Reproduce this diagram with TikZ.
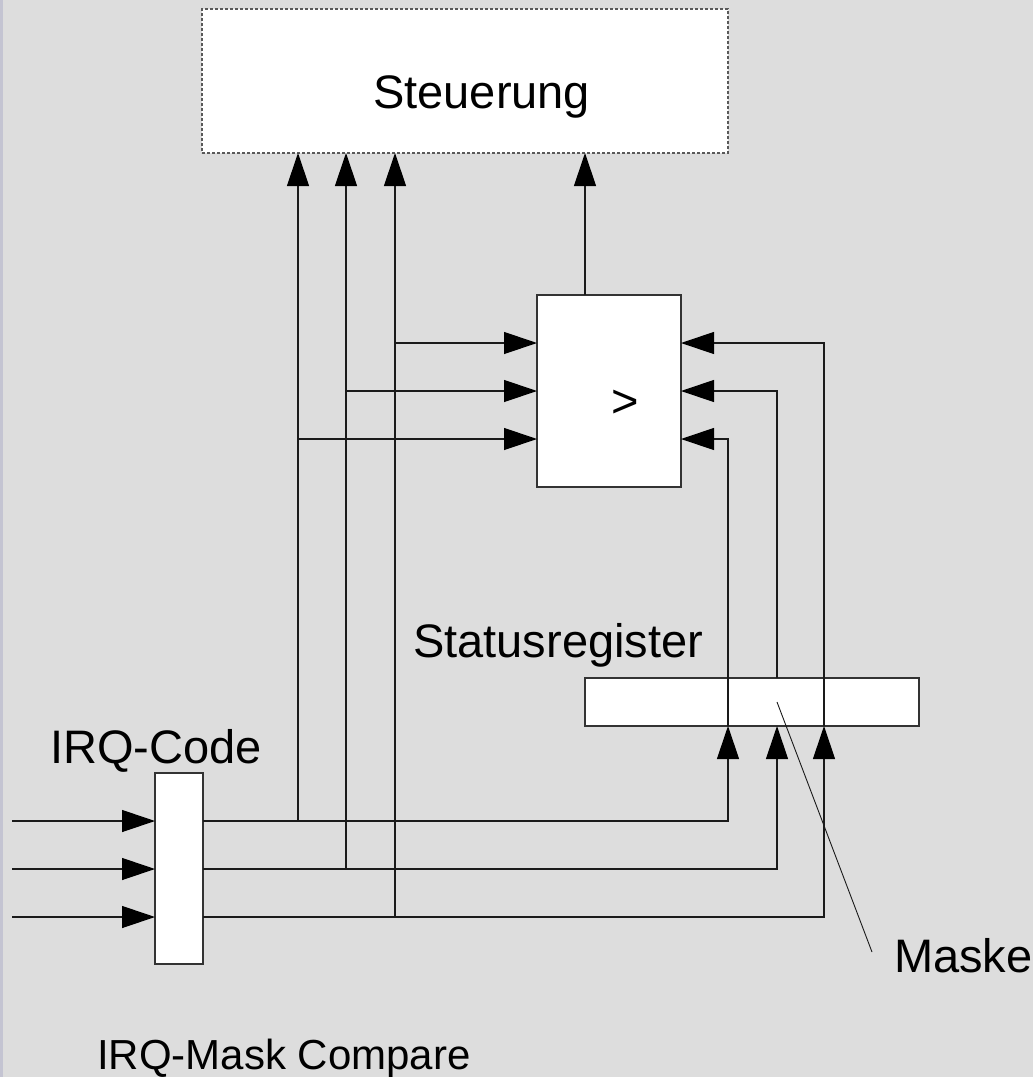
\documentclass[tikz,border=0pt]{standalone}
\usepackage{fontspec}
\setmainfont{Liberation Sans}
\usetikzlibrary{arrows.meta}
\definecolor{bgcol}{HTML}{DDDDDD}
\definecolor{edgecol}{HTML}{C4C4D2}
\definecolor{linecol}{HTML}{1A1A1A}
\definecolor{boxcol}{HTML}{333333}
\tikzset{
  wire/.style={draw=linecol, line width=1.2pt},
  arr/.style={wire, -{Triangle[length=33pt,width=22pt,color=black]}},
  whitebox/.style={draw=boxcol, fill=white, line width=1.3pt, inner sep=0pt, outer sep=0pt, anchor=north west},
  dashbox/.style={whitebox, draw=black!65, dash pattern=on 3pt off 2pt},
  lbl/.style={inner sep=0pt, anchor=base west, font=\fontsize{47}{56}\selectfont},
  lblsmall/.style={inner sep=0pt, anchor=base west, font=\fontsize{42}{50}\selectfont}
}
\begin{document}
\begin{tikzpicture}[x=1pt,y=-1pt]
\useasboundingbox (0,0) rectangle (1033,1077);
\fill[bgcol] (0,0) rectangle (1033,1077);
\fill[edgecol] (0,0) rectangle (2.5,1077);

% boxes
\node[dashbox, minimum width=526pt, minimum height=144pt] (st) at (202,9) {};
\node[whitebox, minimum width=144pt, minimum height=192pt] (cmp) at (537,295) {};
\node[whitebox, minimum width=48pt, minimum height=191pt] (code) at (155,773) {};
\node[whitebox, minimum width=334pt, minimum height=48pt] (sr) at (585,678) {};

% labels
\node[lbl] (stlbl) at (373,108) {Steuerung};
\node[lbl] (gt) at (611,417) {>};
\node[lbl] (srlbl) at (413,657) {Statusregister};
\node[lbl] (codelbl) at (50,763) {IRQ-Code};
\node[lbl] (masklbl) at (894,972) {Maske};
\node[lblsmall] (title) at (97,1069) {IRQ-Mask Compare};

% coordinates
\coordinate (in1) at (12,821);
\coordinate (in2) at (12,869);
\coordinate (in3) at (12,917);
\coordinate (r1) at (0,343);
\coordinate (r2) at (0,391);
\coordinate (r3) at (0,439);
\coordinate (l1) at (298,0);
\coordinate (l2) at (346,0);
\coordinate (l3) at (395,0);
\coordinate (c1) at (728,0);
\coordinate (c2) at (777,0);
\coordinate (c3) at (824,0);
\coordinate (top) at (585,0);
\coordinate (mp) at (777,702);
\coordinate (mq) at (872,952);

% inputs to IRQ-Code
\draw[arr] (in1) -- (in1 -| code.west);
\draw[arr] (in2) -- (in2 -| code.west);
\draw[arr] (in3) -- (in3 -| code.west);

% IRQ-Code outputs to Statusregister
\draw[arr] (code.east |- in1) -| (c1 |- sr.south);
\draw[arr] (code.east |- in2) -| (c2 |- sr.south);
\draw[arr] (code.east |- in3) -| (c3 |- sr.south);

% Statusregister to comparator (right inputs)
\draw[arr] (c1 |- sr.south) |- (cmp.east |- r3);
\draw[arr] (c2 |- sr.north) |- (cmp.east |- r2);
\draw[arr] (c3 |- sr.south) |- (cmp.east |- r1);

% IRQ-Code taps up to Steuerung
\draw[arr] (l1 |- in1) -- (l1 |- st.south);
\draw[arr] (l2 |- in2) -- (l2 |- st.south);
\draw[arr] (l3 |- in3) -- (l3 |- st.south);

% taps to comparator (left inputs)
\draw[arr] (l1 |- r3) -- (cmp.west |- r3);
\draw[arr] (l2 |- r2) -- (cmp.west |- r2);
\draw[arr] (l3 |- r1) -- (cmp.west |- r1);

% comparator output
\draw[arr] (top |- cmp.north) -- (top |- st.south);

% Maske pointer
\draw[draw=linecol, line width=0.9pt] (mp) -- (mq);
\end{tikzpicture}
\end{document}
